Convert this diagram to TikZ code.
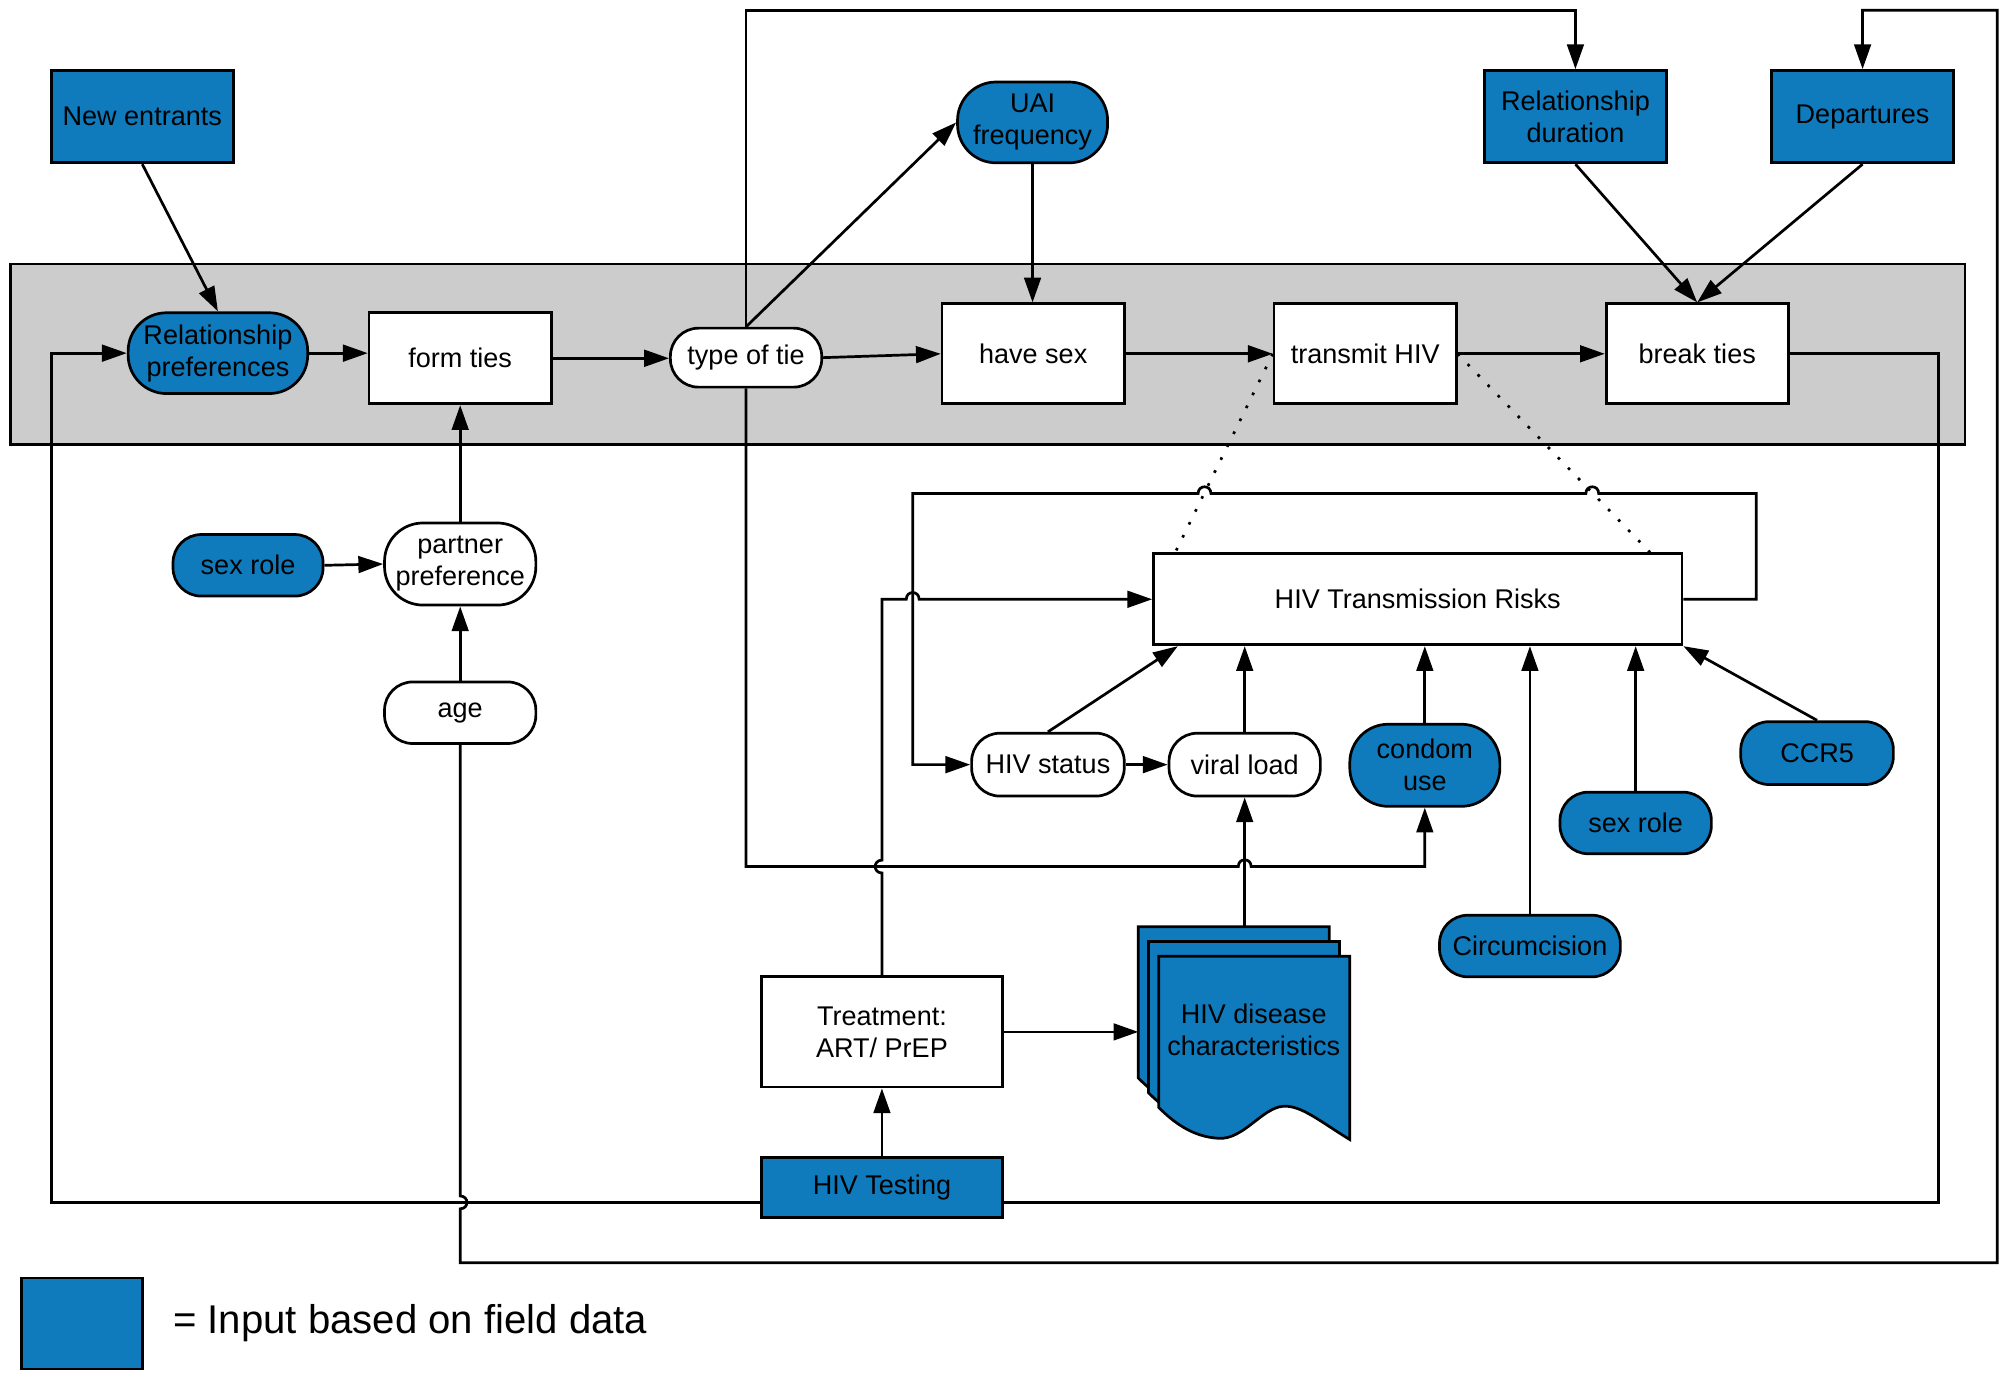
\documentclass[tikz,border=0pt]{standalone}
\usepackage{fontspec}
\setmainfont{Liberation Sans}
\usepackage{xcolor}
\usetikzlibrary{arrows.meta, positioning, calc}
\definecolor{fieldblue}{HTML}{0F7BBD}
\definecolor{bandgray}{HTML}{CCCCCC}

\begin{document}
\begin{tikzpicture}[x=0.01cm, y=-0.01cm,
    every node/.style={font=\fontsize{6}{7.1}\selectfont, align=center,
        inner sep=0pt, semithick},
    box/.style={draw, fill=white, minimum width=1.42cm, minimum height=0.78cm},
    pill/.style={draw, fill=white, rounded corners=0.22cm,
        minimum width=1.18cm, minimum height=0.48cm},
    tallpill/.style={pill, rounded corners=0.3cm, minimum height=0.63cm},
    field/.style={fill=fieldblue},
    wire/.style={semithick},
    arr/.style={semithick, -{Triangle[length=5.5pt,width=3.7pt]}},
    dots/.style={semithick, dash pattern=on 0.6pt off 2.6pt}]

    \useasboundingbox (0,0) rectangle (1568,1076);

    % model steps
    \draw[wire, fill=bandgray] (8,206) rectangle (1533,347);

    \node[tallpill, field, minimum width=1.40cm] (relpref) at (170,275.5) {Relationship\\preferences};
    \node[box, minimum height=0.71cm] (form) at (359,279.5) {form ties};
    \node[pill, minimum height=0.46cm] (tie) at (582,279) {type of tie};
    \node[box] (sex) at (806,276) {have sex};
    \node[box] (trans) at (1065,276) {transmit HIV};
    \node[box] (break) at (1324,276) {break ties};

    \node[box, field, minimum height=0.72cm] (newent) at (111,91) {New entrants};
    \node[tallpill, field, minimum width=1.17cm] (uai) at (805.5,95.5) {UAI\\frequency};
    \node[box, field, minimum height=0.72cm] (reldur) at (1229,91) {Relationship\\duration};
    \node[box, field, minimum height=0.72cm] (depart) at (1453,91) {Departures};

    \node[pill, field, minimum width=1.17cm] (sexroleA) at (193.5,441) {sex role};
    \node[tallpill, minimum height=0.64cm] (partner) at (359,440) {partner\\preference};
    \node[pill] (age) at (359,556) {age};

    \node[box, minimum width=4.12cm, minimum height=0.71cm] (risk) at (1106,467.5) {HIV Transmission Risks};
    \node[pill, minimum width=1.19cm, minimum height=0.49cm] (status) at (817.5,596.5) {HIV status};
    \node[pill, minimum height=0.49cm] (viral) at (971,596.5) {viral load};
    \node[tallpill, field, minimum width=1.17cm, minimum height=0.64cm] (condom) at (1111.5,597) {condom\\use};
    \node[pill, field] (sexroleB) at (1276,642) {sex role};
    \node[pill, field, minimum width=1.19cm, minimum height=0.49cm] (ccr) at (1417.5,587.5) {CCR5};
    \node[pill, field, minimum width=1.41cm] (circ) at (1193.5,738) {Circumcision};

    \node[box, minimum width=1.88cm, minimum height=0.86cm] (treat) at (688,805) {Treatment:\\ART/ PrEP};
    \node[box, field, minimum width=1.88cm, minimum height=0.47cm] (test) at (688,926.5) {HIV Testing};

    % stacked pages
    \foreach \s in {2,1,0}
        \draw[wire, fill=fieldblue, shift={(-8*\s,-11.5*\s)}] (904,746) -- (1053,746) -- (1053,889)
            .. controls (1030,875) and (1015,862) .. (1001,863)
            .. controls (985,864) and (970,889) .. (951,888)
            .. controls (930,887) and (915,875) .. (904,864) -- cycle;
    \node (disease) at (978,803) {HIV disease\\characteristics};

    \coordinate (stack) at (888,723);
    \coordinate (top) at (0,8);
    \coordinate (low) at (0,985);
    \coordinate (base) at (0,938);
    \coordinate (mid) at (0,676);
    \coordinate (ring) at (0,385);
    \coordinate (rimL) at (40,0);
    \coordinate (rimR) at (1512,0);
    \coordinate (edge) at (1558,0);
    \coordinate (ringL) at (712,0);
    \coordinate (ringR) at (1370,0);
    \coordinate (tapL) at ([xshift=0.18cm]risk.north west);
    \coordinate (tapR) at ([xshift=-0.26cm]risk.north east);
    \coordinate (hopL) at ($(trans.west)!0.7!(tapL)$);
    \coordinate (hopR) at ($(trans.east)!0.7!(tapR)$);

    \draw[arr] (newent.south) -- (relpref.north);
    \draw[arr] (relpref.east) -- (relpref.east -| form.west);
    \draw[arr] (form.east) -- (form.east -| tie.west);
    \draw[arr] (tie.east) -- (sex.west);
    \draw[arr] (tie.north) -- (uai.west);
    \draw[arr] (uai.south) -- (uai.south |- sex.north);
    \draw[arr] (sex.east) -- (trans.west);
    \draw[arr] (trans.east) -- (break.west);
    \draw[arr] (reldur.south) -- (break.north);
    \draw[arr] (depart.south) -- (break.north);
    \draw[arr] (tie.north) -- (tie.north |- top) -| (reldur.north);

    \draw[dots] (trans.west) -- (tapL);
    \draw[dots] (trans.east) -- (tapR);

    \draw[wire] (break.east) -- (break.east -| rimR) -- (rimR |- base) -- (test.east |- base);
    \draw[arr] (test.west |- base) -- (rimL |- base) -- (rimL |- relpref.west) -- (relpref.west);
    \draw[arr] (age.south) -- ($(age.south |- base)+(0,-5)$) .. controls +(7,0) and +(7,0) .. ++(0,10)
        -- (age.south |- low) -- (edge |- low) -- (edge |- top) -| (depart.north);

    \draw[arr] (sexroleA.east) -- (partner.west);
    \draw[arr] (partner.north) -- (form.south);
    \draw[arr] (age.north) -- (partner.south);

    \draw[arr] (tie.south) -- (tie.south |- mid) -- ($(viral.south |- mid)+(-5,0)$)
        .. controls +(0,-7) and +(0,-7) .. ++(10,0) -| (condom.south);
    \draw[arr] (treat.north) -- ($(treat.north |- mid)+(0,5)$) .. controls +(-7,0) and +(-7,0) .. ++(0,-10)
        -- (treat.north |- risk.west) -- ($(ringL |- risk.west)+(-5,0)$)
        .. controls +(0,-7) and +(0,-7) .. ++(10,0) -- (risk.west);
    \draw[arr] (risk.east) -- (ringR |- risk.east) -- (ringR |- ring)
        -- ($(hopR |- ring)+(5,0)$) .. controls +(0,-7) and +(0,-7) .. ++(-10,0)
        -- ($(hopL |- ring)+(5,0)$) .. controls +(0,-7) and +(0,-7) .. ++(-10,0)
        -- (ringL |- ring) -- (ringL |- status.west) -- (status.west);

    \draw[arr] (status.east) -- (viral.west);
    \draw[arr] (status.north) -- ([xshift=0.2cm]risk.south west);
    \draw[arr] (viral.north) -- (viral.north |- risk.south);
    \draw[arr] (condom.north) -- (condom.north |- risk.south);
    \draw[arr] (circ.north) -- (circ.north |- risk.south);
    \draw[arr] (sexroleB.north) -- (sexroleB.north |- risk.south);
    \draw[arr] (ccr.north) -- (risk.south east);
    \draw[arr] (test.north) -- (treat.south);
    \draw[arr] (treat.east) -- (treat.east -| stack);
    \draw[arr] (viral.south |- stack) -- (viral.south);

    % legend
    \node[draw, field, minimum width=0.94cm, minimum height=0.71cm] (key) at (64,1032.5) {};
    \node[right=0.22cm of key, font=\fontsize{8.9}{10}\selectfont] (keytext) {= Input based on field data};

\end{tikzpicture}
\end{document}
